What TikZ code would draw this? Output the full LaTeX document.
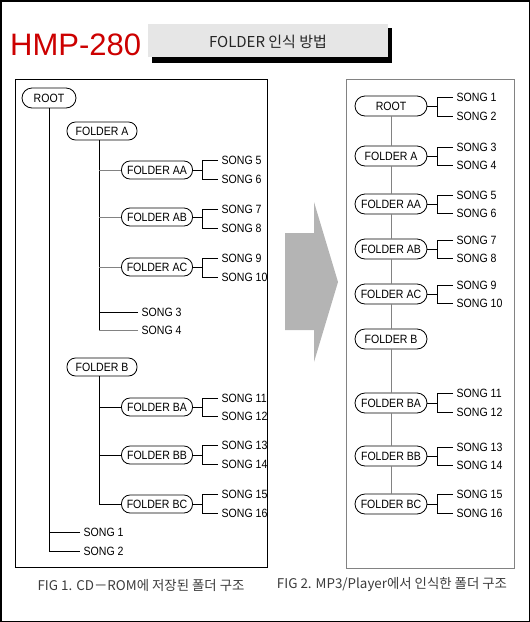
\documentclass[tikz,border=0pt]{standalone}
\usepackage{fontspec}
\setmainfont{Liberation Sans}
\newfontfamily\cond[FakeStretch=0.88]{Liberation Sans}
\newfontfamily\kr{Noto Sans CJK KR}
\definecolor{titlered}{RGB}{204,0,0}
\definecolor{boxgray}{RGB}{230,230,230}
\definecolor{arrowgray}{RGB}{180,180,180}
\definecolor{capgray}{RGB}{60,60,60}
\definecolor{linegray}{RGB}{130,130,130}
\begin{document}
\begin{tikzpicture}[x=1pt,y=-1pt,
  pill/.style={draw=black, line width=0.8pt, fill=white, rounded corners=8.5pt,
    minimum width=71pt, minimum height=18pt, inner sep=0pt,
    font=\cond\fontsize{12}{13}\selectfont},
  rpill/.style={pill, minimum width=72pt, minimum height=20pt, rounded corners=10pt},
  song/.style={anchor=west, inner xsep=3.5pt, inner ysep=0pt,
    font=\cond\fontsize{12}{13}\selectfont},
  tline/.style={line width=0.8pt, draw=black},
  gline/.style={line width=0.8pt, draw=linegray},
  captext/.style={font=\kr\fontsize{13.4}{14}\selectfont, text=capgray, inner sep=0pt}]
\useasboundingbox (0,0) rectangle (530,622);
\draw[line width=1.5pt] (0.75,0.75) rectangle (529.25,621.25);
% title
\node[anchor=base west, inner sep=0pt, text=titlered,
  font=\fontsize{31}{32}\selectfont] (title) at (10,55) {HMP-280};
\fill[black] (152,28) rectangle (392,63);
\fill[boxgray] (148,24) rectangle (388,57);
\node[font=\kr\fontsize{15}{16}\selectfont, text=black!85, inner sep=0pt] (subtitle) at (268,42) {FOLDER 인식 방법};
% panels
\draw[line width=1pt] (15,79) rectangle (267,567);
\draw[line width=1pt, draw=linegray] (346,79) rectangle (514,568);
% arrow
\fill[arrowgray] (285,233) -- (314,233) -- (314,202) -- (338,282) -- (314,362) -- (314,330) -- (285,330) -- cycle;
% ---------- left tree ----------
\node[pill, minimum width=54pt, minimum height=20pt, rounded corners=10pt] (lroot) at (49,98) {ROOT};
\node[pill, minimum width=70pt] (lfa) at (102,131) {FOLDER A};
\node[pill] (lfaa) at (157,170) {FOLDER AA};
\node[pill] (lfab) at (157,217) {FOLDER AB};
\node[pill] (lfac) at (157,267) {FOLDER AC};
\node[pill, minimum width=70pt] (lfb) at (102,367) {FOLDER B};
\node[pill] (lfba) at (157,407) {FOLDER BA};
\node[pill] (lfbb) at (157,455) {FOLDER BB};
\node[pill] (lfbc) at (157,504) {FOLDER BC};
\foreach \n/\y in {5/160,6/179,7/209,8/228,9/258,10/277,11/398,12/416,13/445,14/464,15/494,16/513}
  \node[song] (ls\n) at (218,\y) {SONG \n};
\node[song] (ls3) at (138,312) {SONG 3};
\node[song] (ls4) at (138,330) {SONG 4};
\node[song] (ls1) at (80,532) {SONG 1};
\node[song] (ls2) at (80,551) {SONG 2};
% root line
\draw[tline] (lroot.south) |- (ls2.west);
\draw[tline] (ls1.west) -- (ls1.west -| lroot.south);
% folder A line
\coordinate (va) at ([xshift=-3pt]lfa.south);
\draw[tline] (va) -- (va |- ls4.west);
\draw[gline] (ls4.west) -- (ls4.west -| va);
\draw[tline] (ls3.west) -- (ls3.west -| va);
\foreach \n in {lfaa,lfab,lfac}
  \draw[gline] (\n.west) -- (\n.west -| va);
% folder B line
\coordinate (vb) at ([xshift=-3pt]lfb.south);
\draw[tline] (vb) |- (lfbc.west);
\foreach \n in {lfba,lfbb}
  \draw[tline] (\n.west) -- (\n.west -| vb);
% brackets
\foreach \f/\a/\b in {lfaa/ls5/ls6,lfab/ls7/ls8,lfac/ls9/ls10,lfba/ls11/ls12,lfbb/ls13/ls14,lfbc/ls15/ls16}{
  \draw[tline] (\a.west) -- ++(-16,0) coordinate (br) |- (\b.west);
  \draw[tline] (\f.east) -- (\f.east -| br);
}
% ---------- right tree ----------
\node[rpill] (rroot) at (391,106) {ROOT};
\node[rpill] (rfa) at (391,156) {FOLDER A};
\node[rpill] (rfaa) at (391,204) {FOLDER AA};
\node[rpill] (rfab) at (391,249) {FOLDER AB};
\node[rpill] (rfac) at (391,294) {FOLDER AC};
\node[rpill] (rfb) at (391,339) {FOLDER B};
\node[rpill] (rfba) at (391,403) {FOLDER BA};
\node[rpill] (rfbb) at (391,456) {FOLDER BB};
\node[rpill] (rfbc) at (391,504) {FOLDER BC};
\foreach \n/\y in {1/97,2/116,3/147,4/165,5/195,6/213,7/240,8/258,9/285,10/303,11/393,12/412,13/447,14/465,15/494,16/513}
  \node[song] (rs\n) at (453,\y) {SONG \n};
\draw[gline] (rroot) -- (rfa) -- (rfaa) -- (rfab) -- (rfac) -- (rfb) -- (rfba) -- (rfbb) -- (rfbc);
\foreach \f/\a/\b in {rroot/rs1/rs2,rfa/rs3/rs4,rfaa/rs5/rs6,rfab/rs7/rs8,rfac/rs9/rs10,rfba/rs11/rs12,rfbb/rs13/rs14,rfbc/rs15/rs16}{
  \draw[tline] (\a.west) -- ++(-16,0) coordinate (br) |- (\b.west);
  \draw[tline] (\f.east) -- (\f.east -| br);
}
% captions
\node[captext] (cap1) at (141,585) {FIG 1. CD－ROM에 저장된 폴더 구조};
\node[captext] (cap2) at (392,585) {FIG 2. MP3/Player에서 인식한 폴더 구조};
\end{tikzpicture}
\end{document}
